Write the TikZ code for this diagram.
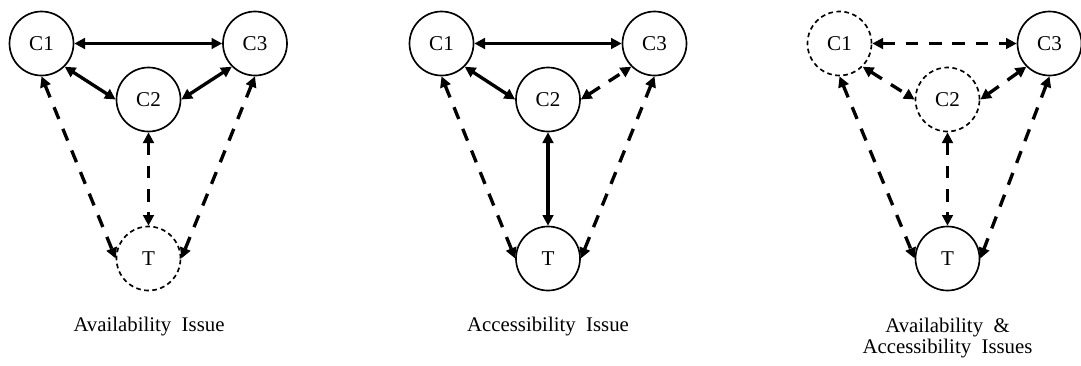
\documentclass[tikz,border=0pt]{standalone}
\usepackage{fontspec}
\setmainfont{Liberation Serif}
\usetikzlibrary{arrows.meta}

\tikzset{
  vert/.style={circle, draw, line width=1.25pt, minimum size=48pt, inner sep=0pt,
               font=\fontsize{15.8}{18}\selectfont},
  dvert/.style={vert, dash pattern=on 3.5pt off 2.6pt},
  link/.style={line width=2.5pt,
               {Triangle[length=8pt,width=8pt]}-{Triangle[length=8pt,width=8pt]}},
  dlink/.style={link, dash pattern=on 9.5pt off 8pt},
  caption/.style={inner sep=0pt, align=center,
                  font=\fontsize{15.6}{16.1}\selectfont}
}

\begin{document}
\begin{tikzpicture}[x=0.75pt, y=-0.75pt]
\useasboundingbox (0,0) rectangle (1081,365);

% --- Availability issue: the target is unavailable
\node[vert]  (aC1) at (41.5,43.5)  {C1};
\node[vert]  (aC3) at (255,43.5)   {C3};
\node[vert]  (aC2) at (148.5,99.5) {C2};
\node[dvert] (aT)  at (148.5,258.5) {T};
\draw[link]  (aC1.east) -- (aC3.west);
\draw[link]  (aC1.south east) -- (aC2.west);
\draw[link]  (aC2.east) -- (aC3.south west);
\draw[dlink] (aC2.south) -- (aT.north);
\draw[dlink] (aC1.south) -- (aT.west);
\draw[dlink] (aC3.south) -- (aT.east);
\node[caption, anchor=base] (acap) at (149,331.5) {Availability\ \ Issue};

% --- Accessibility issue: only some links to the target remain
\node[vert] (bC1) at (441.5,43.5)  {C1};
\node[vert] (bC3) at (654.5,43.5)  {C3};
\node[vert] (bC2) at (548,99.5)    {C2};
\node[vert] (bT)  at (548,258.5)   {T};
\draw[link]  (bC1.east) -- (bC3.west);
\draw[link]  (bC1.south east) -- (bC2.west);
\draw[dlink] (bC2.east) -- (bC3.south west);
\draw[link]  (bC2.south) -- (bT.north);
\draw[dlink] (bC1.south) -- (bT.west);
\draw[dlink] (bC3.south) -- (bT.east);
\node[caption, anchor=base] (bcap) at (548,331.5) {Accessibility\ \ Issue};

% --- Both issues together
\node[dvert] (cC1) at (839.5,43.5)  {C1};
\node[vert]  (cC3) at (1049.5,43.5) {C3};
\node[dvert] (cC2) at (947.5,99.5)  {C2};
\node[vert]  (cT)  at (947.5,258.5) {T};
\draw[dlink] (cC1.east) -- (cC3.west);
\draw[dlink] (cC1.south east) -- (cC2.west);
\draw[dlink] (cC2.east) -- (cC3.south west);
\draw[dlink] (cC2.south) -- (cT.north);
\draw[dlink] (cC1.south) -- (cT.west);
\draw[dlink] (cC3.south) -- (cT.east);
\node[caption, anchor=north] (ccap) at (947.5,317.4) {Availability\ \ \&\\Accessibility\ \ Issues};
\end{tikzpicture}
\end{document}
